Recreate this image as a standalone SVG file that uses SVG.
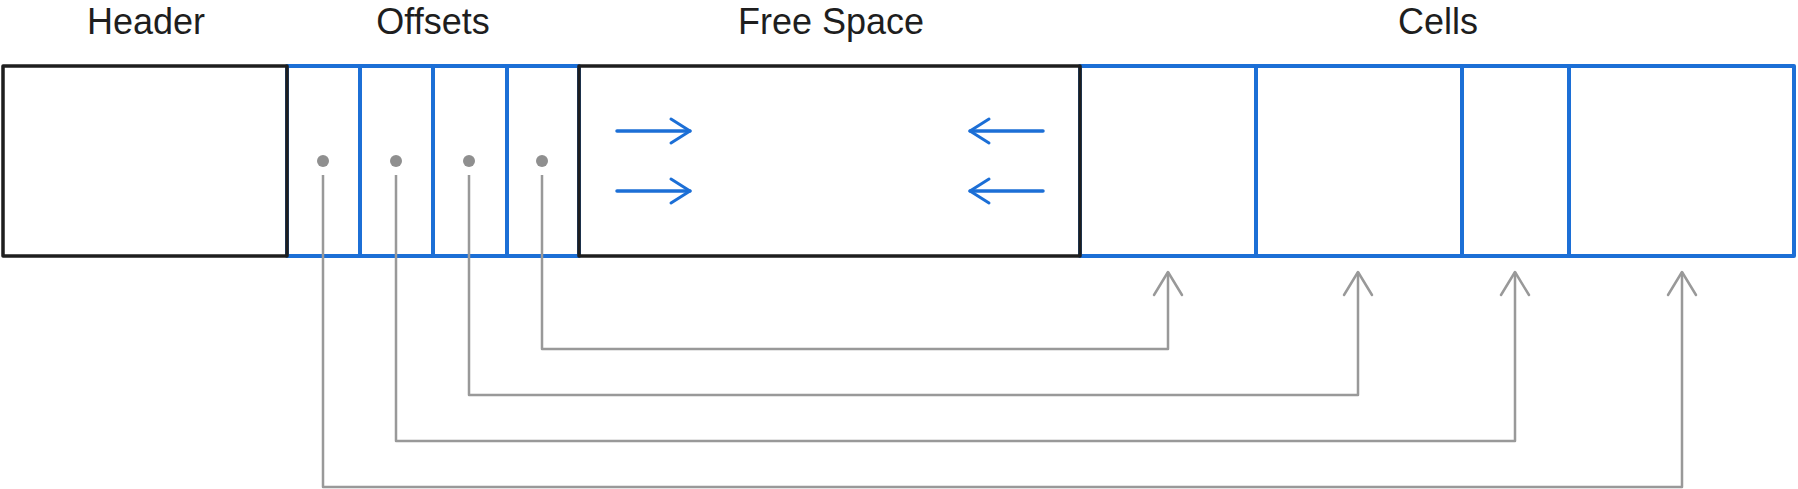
<svg xmlns="http://www.w3.org/2000/svg" width="1798" height="489" viewBox="0 0 1798 489">
  <style>
    .lbl { font-family: "Liberation Sans", Arial, sans-serif; font-size: 36px; fill: #1e1e1e; text-anchor: middle; }
    .blk { fill: none; stroke: #1e1e1e; stroke-width: 3.5; stroke-linejoin: round; }
    .blu { fill: none; stroke: #1c6fd6; stroke-width: 4; stroke-linejoin: round; }
    .dot { fill: #8f8f8f; }
    .conn { fill: none; stroke: #999999; stroke-width: 2.5; stroke-linejoin: round; marker-end: url(#grayHead); }
    .fs { fill: none; stroke: #1c6fd6; stroke-width: 3.5; stroke-linecap: round; marker-end: url(#blueHead); }
  </style>
  <defs>
    <marker id="grayHead" markerUnits="userSpaceOnUse" markerWidth="40" markerHeight="40" refX="0" refY="0" orient="auto" overflow="visible">
      <path d="M-23,-14 L0,0 L-23,14" fill="none" stroke="#999999" stroke-width="2.5" stroke-linecap="round" stroke-linejoin="round"/>
    </marker>
    <marker id="blueHead" markerUnits="userSpaceOnUse" markerWidth="40" markerHeight="40" refX="0" refY="0" orient="auto" overflow="visible">
      <path d="M-19,-12 L0,0 L-19,12" fill="none" stroke="#1c6fd6" stroke-width="3" stroke-linecap="round" stroke-linejoin="round"/>
    </marker>
  </defs>
  <rect width="1798" height="489" fill="#ffffff"/>

  <g id="labels">
    <text class="lbl" x="146" y="34">Header</text>
    <text class="lbl" x="433" y="34">Offsets</text>
    <text class="lbl" x="831" y="34">Free Space</text>
    <text class="lbl" x="1438" y="34">Cells</text>
  </g>

  <g id="offset-1">
    <rect class="blu" x="287" y="66" width="73" height="190"/>
    <circle class="dot" cx="323" cy="161" r="6"/>
  </g>
  <g id="offset-2">
    <rect class="blu" x="360" y="66" width="73" height="190"/>
    <circle class="dot" cx="396" cy="161" r="6"/>
  </g>
  <g id="offset-3">
    <rect class="blu" x="433" y="66" width="74" height="190"/>
    <circle class="dot" cx="469" cy="161" r="6"/>
  </g>
  <g id="offset-4">
    <rect class="blu" x="507" y="66" width="72" height="190"/>
    <circle class="dot" cx="542" cy="161" r="6"/>
  </g>

  <g id="cell-1"><rect class="blu" x="1080" y="66" width="176" height="190"/></g>
  <g id="cell-2"><rect class="blu" x="1256" y="66" width="206" height="190"/></g>
  <g id="cell-3"><rect class="blu" x="1462" y="66" width="107" height="190"/></g>
  <g id="cell-4"><rect class="blu" x="1569" y="66" width="225" height="190"/></g>

  <g id="header"><rect class="blk" x="3" y="66" width="284" height="190"/></g>

  <g id="free-space">
    <rect class="blk" x="579" y="66" width="501" height="190"/>
    <line class="fs" x1="617" y1="131" x2="690" y2="131"/>
    <line class="fs" x1="617" y1="191" x2="690" y2="191"/>
    <line class="fs" x1="1043" y1="131" x2="970" y2="131"/>
    <line class="fs" x1="1043" y1="191" x2="970" y2="191"/>
  </g>

  <g id="connectors">
    <polyline class="conn" points="542,175 542,349 1168,349 1168,272"/>
    <polyline class="conn" points="469,175 469,395 1358,395 1358,272"/>
    <polyline class="conn" points="396,175 396,441 1515,441 1515,272"/>
    <polyline class="conn" points="323,175 323,487 1682,487 1682,272"/>
  </g>
</svg>
